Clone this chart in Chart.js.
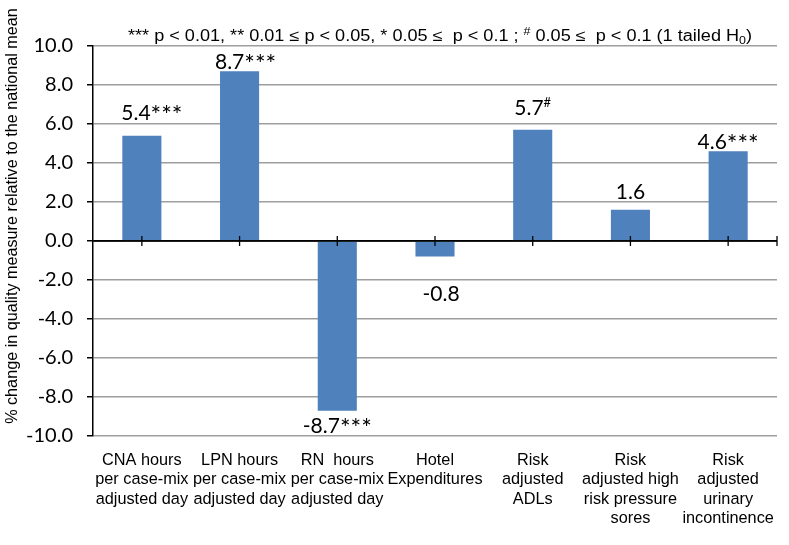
<!DOCTYPE html>
<html><head><meta charset="utf-8">
<script src="https://cdn.jsdelivr.net/npm/chart.js@4/dist/chart.umd.min.js"></script>
<style>html,body{margin:0;padding:0;background:#fff}canvas{display:block}</style>
</head><body>
<canvas id="c" width="789" height="545"></canvas>
<script>
// ---- data ----
const categories = [
  ["CNA hours", "per case-mix", "adjusted day"],
  ["LPN hours", "per case-mix", "adjusted day"],
  ["RN  hours", "per case-mix", "adjusted day"],
  ["Hotel", "Expenditures"],
  ["Risk", "adjusted", "ADLs"],
  ["Risk", "adjusted high", "risk pressure", "sores"],
  ["Risk", "adjusted", "urinary", "incontinence"]
];
const values = [5.4, 8.7, -8.7, -0.8, 5.7, 1.6, 4.6];
const significance = ["***", "***", "***", "", "#", "", "***"];
const yTickValues = [-10, -8, -6, -4, -2, 0, 2, 4, 6, 8, 10];
const yAxisTitle = "% change in quality measure relative to the national mean";
const noteParts = [
  { text: "*** p < 0.01, ** 0.01 \u2264 p < 0.05, * 0.05 \u2264  p < 0.1 ; " },
  { text: "#", sup: true },
  { text: " 0.05 \u2264  p < 0.1 (1 tailed H" },
  { text: "0", sub: true },
  { text: ")" }
];

// ---- styling ----
const BAR = '#4F81BD';
const GRID = '#9E9E9E';
const NUM_FAMILY = 'Lato, "Open Sans", sans-serif';
const LABEL_FONT = '21px ' + NUM_FAMILY;
const STAR_FONT = '25px ' + NUM_FAMILY;
const SUP_FONT = '13px ' + NUM_FAMILY;
const ARIAL = '"Liberation Sans", Arial, sans-serif';

const annotate = {
  id: 'annotate',
  afterDatasetsDraw(chart, args, opts) {
    const ctx = chart.ctx;
    const xs = chart.scales.x, ys = chart.scales.y;
    const area = chart.chartArea;
    const y0 = ys.getPixelForValue(0);
    ctx.save();
    // zero axis line
    ctx.strokeStyle = '#000';
    ctx.lineWidth = 1.5;
    ctx.beginPath();
    ctx.moveTo(area.left, y0); ctx.lineTo(area.right, y0);
    ctx.stroke();
    // category tick marks crossing the axis
    ctx.lineWidth = 1.3;
    const tickXs = values.map((v, i) => xs.getPixelForValue(i));
    tickXs.push(area.right);
    tickXs.forEach(x => {
      ctx.beginPath();
      ctx.moveTo(x, y0 - 5); ctx.lineTo(x, y0 + 5);
      ctx.stroke();
    });
    // data labels
    const meta = chart.getDatasetMeta(0);
    ctx.fillStyle = '#000';
    ctx.textBaseline = 'alphabetic';
    ctx.textAlign = 'left';
    meta.data.forEach((bar, i) => {
      const v = values[i];
      const num = v.toFixed(1);
      const sig = significance[i];
      const sup = sig === '#';
      const sigFont = sup ? SUP_FONT : STAR_FONT;
      const nudge = opts.nudges[i] || [0, 0];
      ctx.font = LABEL_FONT;
      const wNum = ctx.measureText(num).width;
      let wSig = 0;
      if (sig) {
        ctx.font = sigFont;
        wSig = ctx.measureText(sig).width;
      }
      const total = wNum + wSig;
      const cy = (v >= 0 ? bar.y - opts.gap : bar.y + opts.gap) + nudge[1];
      const base = cy + 7.5;
      const x = bar.x - total / 2 + nudge[0];
      ctx.font = LABEL_FONT;
      ctx.fillText(num, x, base);
      if (sig) {
        ctx.font = sigFont;
        ctx.fillText(sig, x + wNum, sup ? base - 8 : base + 4);
      }
    });
    ctx.restore();
  },
  afterDraw(chart, args, opts) {
    const ctx = chart.ctx;
    ctx.save();
    ctx.fillStyle = '#000';
    // significance note at top
    ctx.textBaseline = 'alphabetic';
    ctx.textAlign = 'left';
    const base = '16px ' + ARIAL, small = '11px ' + ARIAL;
    let total = 0;
    noteParts.forEach(p => { ctx.font = (p.sup || p.sub) ? small : base; total += ctx.measureText(p.text).width; });
    const sx = opts.noteWidth / total;
    ctx.save();
    ctx.translate(opts.noteCenter - opts.noteWidth / 2, 41);
    ctx.scale(sx, 1);
    let x = 0;
    noteParts.forEach(p => {
      ctx.font = (p.sup || p.sub) ? small : base;
      const dy = p.sup ? -6 : (p.sub ? 3 : 0);
      ctx.fillText(p.text, x, dy);
      x += ctx.measureText(p.text).width;
    });
    ctx.restore();
    // y-axis title
    ctx.translate(13, 216);
    ctx.rotate(-Math.PI / 2);
    ctx.textAlign = 'center';
    ctx.textBaseline = 'middle';
    ctx.font = '16.2px ' + ARIAL;
    ctx.fillText(yAxisTitle, 0, 0);
    ctx.restore();
  }
};

new Chart(document.getElementById('c'), {
  type: 'bar',
  data: {
    labels: categories,
    datasets: [{
      data: values,
      backgroundColor: BAR,
      borderWidth: 0,
      barPercentage: 0.4,
      categoryPercentage: 1.0
    }]
  },
  options: {
    responsive: false,
    animation: false,
    layout: { padding: { top: 46, right: 2, left: 0, bottom: 0 } },
    plugins: {
      legend: { display: false },
      tooltip: { enabled: false },
      annotate: {
        gap: 20,
        noteWidth: 624,
        noteCenter: 440,
        nudges: [[10, -3], [6, 10], [0, -5], [6, 17], [0, -2], [0, 2], [0, 10]]
      }
    },
    scales: {
      x: {
        grid: { display: false, drawTicks: false },
        border: { display: false },
        ticks: {
          color: '#000',
          padding: 15,
          maxRotation: 0,
          autoSkip: false,
          font: { family: ARIAL, size: 16.3, lineHeight: 1.18 }
        },
        afterFit(s) { s.height = 109; }
      },
      y: {
        min: -10, max: 10,
        afterBuildTicks(s) { s.ticks = yTickValues.map(v => ({ value: v })); },
        ticks: {
          color: '#000',
          padding: 14,
          font: { family: NUM_FAMILY, size: 20 },
          callback: v => v.toFixed(1)
        },
        grid: {
          color: c => (c.tick && c.tick.value === 0) ? '#000' : GRID,
          lineWidth: 1.5,
          tickLength: 6,
          tickColor: '#000'
        },
        border: { display: true, color: '#000', width: 1.5 },
        afterFit(s) { s.width = 93; }
      }
    }
  },
  plugins: [annotate]
});
</script>
</body></html>
